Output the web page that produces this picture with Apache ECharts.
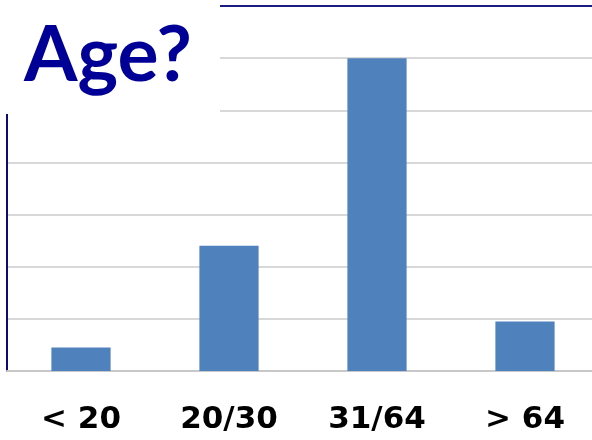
<!DOCTYPE html>
<html>
<head>
<meta charset="utf-8">
<script src="https://cdn.jsdelivr.net/npm/echarts@6/dist/echarts.min.js"></script>
<style>
	html, body { margin: 0; padding: 0; background: #fff; }
	#main { width: 592px; height: 440px; }
</style>
</head>
<body>
<div id="main"></div>
<script>
// 数据
var categories = ['< 20', '20/30', '31/64', '> 64'];
var values = [4.5, 24, 60, 9.5];
var titleText = 'Age?';

var myChart = echarts.init(document.getElementById('main'));

var option = {
	animation: false,
	grid: {
		left: 7,
		top: 6,
		width: 592,
		bottom: 69,
		outerBoundsMode: 'none',
		containLabel: false
	},
	xAxis: [{
		type: 'category',
		data: categories,
		axisTick: { show: false },
		axisLine: { lineStyle: { color: '#c8c8c8', width: 2 } },
		axisLabel: {
			margin: 33,
			color: '#000',
			fontFamily: 'DejaVu Sans',
			fontWeight: 'bold',
			fontSize: 31
		}
	}, {
		type: 'category',
		position: 'top',
		data: categories,
		axisTick: { show: false },
		axisLabel: { show: false },
		axisLine: { lineStyle: { color: '#1c1c80', width: 2 } }
	}],
	yAxis: {
		type: 'value',
		min: 0,
		max: 70,
		interval: 10,
		axisLabel: { show: false },
		axisTick: { show: false },
		axisLine: { show: true, lineStyle: { color: '#0a0a78', width: 2 } },
		splitLine: { lineStyle: { color: '#d8d8d8', width: 2 } }
	},
	series: [{
		type: 'bar',
		data: values,
		barWidth: '40%',
		itemStyle: { color: '#4f81bd' }
	}],
	graphic: [{
		type: 'rect',
		z: 100,
		shape: { x: 0, y: 0, width: 220, height: 114 },
		style: { fill: '#fff' }
	}, {
		type: 'text',
		z: 101,
		left: 24,
		top: 18,
		style: {
			text: titleText,
			fill: '#000096',
			font: 'bold 77px Lato'
		}
	}]
};

myChart.setOption(option);
</script>
</body>
</html>
